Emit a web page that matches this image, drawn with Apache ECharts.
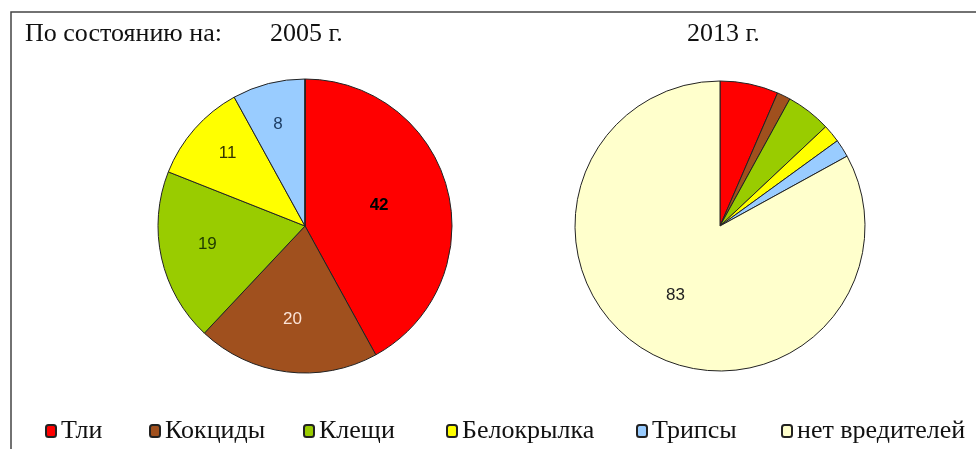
<!DOCTYPE html>
<html>
<head>
<meta charset="utf-8">
<script src="https://cdn.jsdelivr.net/npm/echarts@6/dist/echarts.min.js"></script>
<style>
  html, body { margin: 0; padding: 0; background: #fff; }
  #chart { width: 976px; height: 449px; }
</style>
</head>
<body>
<div id="chart"></div>
<script>
// категории и значения
const categories = ['Тли', 'Кокциды', 'Клещи', 'Белокрылка', 'Трипсы', 'нет вредителей'];
const values2005 = [42, 20, 19, 11, 8, 0];
const values2013 = [6.5, 1.5, 5, 2, 2, 83];
const colors = ['#ff0000', '#a0501e', '#99cc00', '#ffff00', '#99ccff', '#ffffcc'];
const labelColors = ['#000', '#fbe3d6', '#1e3a00', '#333300', '#1f3f66', '#222'];
// сдвиг подписей как в Excel
const offsets2005 = [[0, -2], [-3, 17], [-23, 2], [-20, -22], [-8, -28], [0, 0]];
const offsets2013 = [[0, 0], [0, 0], [0, 0], [0, 0], [0, 0], [-6, 4]];
const legendX = [40, 144, 298, 441, 631, 776];

const chart = echarts.init(document.getElementById('chart'));

function pieData(values, offsets, showOnly) {
  return categories.map((name, i) => ({
    name,
    value: values[i],
    itemStyle: { color: colors[i] },
    label: {
      show: showOnly ? showOnly.includes(i) && values[i] > 0 : values[i] > 0,
      color: labelColors[i],
      fontWeight: i === 0 ? 'bold' : 'normal',
      offset: offsets[i],
    },
  }));
}

const seriesBase = {
  type: 'pie',
  startAngle: 90,
  clockwise: true,
  silent: true,
  avoidLabelOverlap: false,
  label: {
    position: 'inside',
    formatter: '{c}',
    fontFamily: 'Liberation Sans, Arial, sans-serif',
    fontSize: 17,
  },
  labelLine: { show: false },
  itemStyle: { borderColor: '#222', borderWidth: 1 },
  emphasis: { disabled: true },
};

const option = {
  animation: false,
  graphic: [
    {
      type: 'rect',
      shape: { x: 11, y: 12, width: 990, height: 460 },
      style: { fill: 'none', stroke: '#444', lineWidth: 1.5 },
    },
  ],
  title: [
    { text: 'По состоянию на:', left: 20, top: 16 },
    { text: '2005 г.', left: 265, top: 16 },
    { text: '2013 г.', left: 682, top: 16 },
  ].map((t) => ({
    ...t,
    textStyle: {
      fontFamily: 'Liberation Serif, Times New Roman, serif',
      fontSize: 26,
      fontWeight: 'normal',
      color: '#111',
    },
  })),
  legend: categories.map((name, i) => ({
    data: [name],
    left: legendX[i],
    top: 413,
    itemWidth: 10,
    itemHeight: 12,
    itemGap: 6,
    selectedMode: false,
    textStyle: {
      fontFamily: 'Liberation Serif, Times New Roman, serif',
      fontSize: 26,
      color: '#111',
    },
  })),
  series: [
    { ...seriesBase, name: '2005', center: [305, 226], radius: 147, data: pieData(values2005, offsets2005) },
    { ...seriesBase, name: '2013', center: [720, 226], radius: 145, data: pieData(values2013, offsets2013, [5]) },
  ],
};

chart.setOption(option);
</script>
</body>
</html>
